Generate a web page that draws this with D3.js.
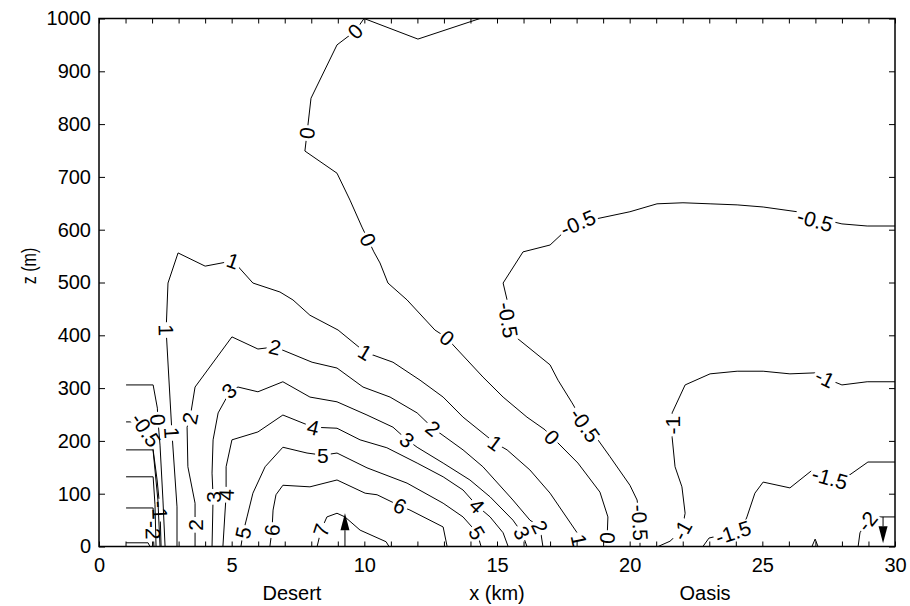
<!DOCTYPE html>
<html>
<head>
<meta charset="utf-8">
<script src="https://cdn.jsdelivr.net/npm/d3@7"></script>
<style>
  body { margin: 0; background: #fff; }
  svg { display: block; }
  text { font-family: "Liberation Sans", Arial, Helvetica, sans-serif; }
</style>
</head>
<body>
<svg id="chart" width="910" height="606"></svg>
<script>
// ---- Contour lines, vertices as [x (km), z (m)] ----
const c0 = [[14.36,1000],[12.02,961],[9.99,1000],[9.65,976],[8.97,950],[7.99,849],[7.84,783],[7.76,749],[8.97,707],[9.46,656],[9.91,605],[10.14,581],[10.36,558],[10.59,537],[10.89,499],[11.61,467],[12.66,410],[13.12,395],[13.34,382],[14.47,321],[15.23,283],[16.13,245],[16.81,221],[17.07,207],[17.30,196],[18.05,158],[18.88,103],[19.18,56],[19.15,16],[19.11,0]];
const c1 = [[2.94,0],[2.94,75],[2.75,215],[2.53,410],[2.60,499],[2.98,556],[4.00,531],[5.05,541],[5.80,499],[6.82,482],[7.31,467],[7.95,438],[9.01,410],[10.03,368],[11.08,349],[12.10,315],[12.97,283],[13.72,245],[14.93,196],[15.38,183],[16.24,145],[17.00,101],[18.02,26],[18.09,12],[18.13,0]];
const c2 = [[3.62,0],[3.62,41],[3.62,82],[3.35,151],[3.32,226],[3.43,243],[3.62,302],[5.01,397],[5.99,374],[6.63,378],[8.03,349],[8.97,338],[9.95,302],[10.97,283],[11.99,253],[12.59,224],[13.72,183],[14.47,151],[15.60,88],[16.24,50],[16.62,37],[16.73,0]];
const c3 = [[4.26,0],[4.30,94],[4.26,139],[4.30,202],[4.49,253],[4.82,283],[4.90,295],[5.24,302],[5.99,293],[6.93,312],[7.95,283],[8.97,274],[10.10,249],[11.08,226],[11.61,202],[11.99,188],[12.97,158],[13.98,126],[14.74,94],[15.60,50],[15.94,26],[16.13,0]];
const c4 = [[4.67,0],[4.79,98],[4.79,151],[5.01,202],[5.99,217],[6.93,249],[8.07,226],[8.97,224],[9.84,202],[10.85,187],[11.99,158],[12.97,132],[13.72,107],[14.25,77],[14.74,56],[15.23,26],[15.42,0]];
const c5 = [[5.35,0],[5.43,26],[5.58,56],[5.80,101],[6.26,151],[6.93,188],[7.84,177],[8.44,173],[8.97,177],[10.10,149],[11.61,120],[12.97,82],[13.72,56],[14.25,26],[14.40,0]];
const c6 = [[6.44,0],[6.52,31],[6.56,69],[6.67,98],[6.93,116],[7.95,113],[8.97,126],[10.03,101],[10.48,98],[11.34,77],[11.72,69],[12.97,37],[13.12,0]];
const c7 = [[8.22,0],[8.37,31],[8.59,56],[8.97,63],[9.27,56],[9.84,31],[10.82,9],[10.93,0]];
const cm05 = [[20.39,0],[20.39,45],[20.31,75],[20.28,88],[20.01,116],[19.26,170],[18.62,215],[18.32,230],[17.83,272],[17.30,315],[17.00,344],[15.60,401],[15.42,429],[15.38,467],[15.23,499],[15.98,558],[17.00,571],[17.49,594],[18.05,613],[18.69,620],[20.01,634],[21.03,649],[22.01,651],[23.03,649],[24.05,647],[25.03,643],[26.31,634],[26.99,618],[27.66,615],[28.00,611],[28.95,607],[30.00,607]];
const cm1 = [[21.07,0],[21.52,10],[21.97,31],[22.09,63],[21.97,113],[21.71,151],[21.60,207],[21.60,230],[21.60,253],[22.09,306],[23.03,327],[24.05,332],[25.03,332],[26.04,327],[27.06,329],[27.36,319],[28.00,306],[28.95,312],[30.00,312]];
const cm15 = [[22.76,0],[22.99,16],[23.90,27],[24.27,37],[24.42,56],[24.72,101],[25.03,122],[26.04,111],[26.99,149],[27.55,130],[28.19,132],[28.98,160],[30.00,160]];
const cm2 = [[28.61,0],[28.68,26],[28.95,48],[29.17,56],[30.00,56]];
const cBump = [[26.87,0],[26.99,14],[27.10,0]];
// western edge of the domain
const cLa = [[1.02,306],[2.04,306],[2.20,262],[2.22,240],[2.30,192],[2.41,88],[2.49,0]];
const cLb = [[1.02,236],[1.55,236],[1.77,221],[2.00,202],[2.22,88],[2.30,0]];
const cLc = [[1.02,183],[2.04,183],[2.19,126],[2.30,69],[2.34,0]];
const cLd = [[1.02,132],[2.04,132],[2.11,79],[2.15,0]];
const cLe = [[1.02,73],[2.04,73],[2.04,31],[2.07,0]];
const cLf = [[1.02,7],[1.85,7],[1.92,0]];

// level of each line and the vertices that carry an inline label
const lineSets   = [c0, c1, c2, c3, c4, c5, c6, c7, cm05, cm1, cm15, cm2, cBump, cLa, cLb, cLc, cLd, cLe, cLf];
const lineLevels = [0, 1, 2, 3, 4, 5, 6, 7, -0.5, -1, -1.5, -2, -1.5, 0, -0.5, -1, -1.5, -2, -2.5];
const labelAt    = [[3,6,11,17,23,28],[2,3,7,13,18,23],[1,5,9,15,20],[1,6,14,20],[1,6,13],[1,7,13],[1,9],[1],
                    [1,7,12,18,27],[2,7,15],[2,9],[2],[],[3],[2],[3],[],[2],[]];

// vertical wind arrows: x (km), start z, tip z
const arrowX    = [9.27, 29.55];
const arrowFrom = [0, 56];
const arrowTo   = [63, 6];

// axis ticks and annotations
const xMajor = d3.range(0, 31, 5);
const xMinor = d3.range(0, 31, 1);
const zTicks = d3.range(0, 1001, 100);
const siteNames = ["Desert", "Oasis"];
const siteX     = [7.27, 22.84];

// ---- layout ----
const M = { l: 99, r: 895, t: 18.5, b: 546.5 };
const FONT = '"Liberation Sans", Arial, Helvetica, sans-serif';
const svg = d3.select("#chart");
const x = d3.scaleLinear().domain([0, 30]).range([M.l, M.r]);
const y = d3.scaleLinear().domain([0, 1000]).range([M.b, M.t]);

const defs = svg.append("defs");
defs.append("clipPath").attr("id", "plotClip")
  .append("rect").attr("x", M.l).attr("y", M.t).attr("width", M.r - M.l).attr("height", M.b - M.t);

const LABEL_SIZE = 21;
// text measurement helper
const probe = svg.append("text").attr("font-size", LABEL_SIZE).style("font-family", FONT).attr("visibility", "hidden");
function textWidth(s) { probe.text(s); return probe.node().getComputedTextLength(); }

const lineGen = d3.line().x(d => x(d[0])).y(d => y(d[1]));
const gLines = svg.append("g").attr("clip-path", "url(#plotClip)");
const gLabels = svg.append("g");

lineSets.forEach((pts, i) => {
  const txt = String(lineLevels[i]);
  const w = textWidth(txt) + 4, h = LABEL_SIZE * 0.78;
  const labs = labelAt[i].map(k => {
    const p = pts[k];
    const a = pts[Math.max(0, k - 1)], b = pts[Math.min(pts.length - 1, k + 1)];
    let ang = Math.atan2(y(b[1]) - y(a[1]), x(b[0]) - x(a[0])) * 180 / Math.PI;
    if (ang > 90) ang -= 180;
    if (ang < -90) ang += 180;
    return { cx: x(p[0]), cy: y(p[1]), ang };
  });
  // break the line where its own labels sit
  const mask = defs.append("mask").attr("id", "gap" + i)
    .attr("maskUnits", "userSpaceOnUse").attr("x", 0).attr("y", 0).attr("width", 910).attr("height", 606);
  mask.append("rect").attr("x", 0).attr("y", 0).attr("width", 910).attr("height", 606).attr("fill", "#fff");
  labs.forEach(l => mask.append("rect")
    .attr("x", -w / 2).attr("y", -h / 2).attr("width", w).attr("height", h)
    .attr("transform", `translate(${l.cx},${l.cy}) rotate(${l.ang})`).attr("fill", "#000"));

  gLines.append("path")
    .attr("d", lineGen(pts))
    .attr("fill", "none").attr("stroke", "#000").attr("stroke-width", 1)
    .attr("stroke-linejoin", "round")
    .attr("mask", `url(#gap${i})`);

  labs.forEach(l => gLabels.append("text")
    .attr("transform", `translate(${l.cx},${l.cy}) rotate(${l.ang})`)
    .attr("text-anchor", "middle").attr("dy", "0.36em")
    .attr("font-size", LABEL_SIZE).style("font-family", FONT)
    .text(txt));
});

// wind arrows
arrowX.forEach((ax, i) => {
  const cx = x(ax), sy = y(arrowFrom[i]), ty = y(arrowTo[i]);
  const s = Math.sign(sy - ty), hl = 17, hw = 4.5;
  const base = ty + s * hl;
  svg.append("line").attr("x1", cx).attr("x2", cx).attr("y1", sy).attr("y2", base)
    .attr("stroke", "#000").attr("stroke-width", 1);
  svg.append("path").attr("d", `M${cx - hw},${base}L${cx + hw},${base}L${cx},${ty}Z`).attr("fill", "#000");
});

// ---- axes ----
function styleAxis(g) {
  g.select(".domain").remove();
  g.selectAll(".tick line").attr("stroke", "#000").attr("stroke-width", 1);
  g.attr("font-size", 20).attr("font-family", FONT);
  g.selectAll("text").attr("fill", "#000");
}
svg.append("g").attr("transform", `translate(0,${M.b})`)
  .call(d3.axisBottom(x).tickValues(xMinor).tickSize(-5).tickFormat("")).call(styleAxis);
svg.append("g").attr("transform", `translate(0,${M.b})`)
  .call(d3.axisBottom(x).tickValues(xMajor).tickSize(0).tickPadding(11).tickFormat(d3.format("d"))).call(styleAxis);
svg.append("g").attr("transform", `translate(0,${M.t})`)
  .call(d3.axisTop(x).tickValues(xMinor).tickSize(-5).tickFormat("")).call(styleAxis);
svg.append("g").attr("transform", `translate(${M.l},0)`)
  .call(d3.axisLeft(y).tickValues(zTicks).tickSize(-6).tickPadding(8).tickFormat(d3.format("d"))).call(styleAxis);
svg.append("g").attr("transform", `translate(${M.r},0)`)
  .call(d3.axisRight(y).tickValues(zTicks).tickSize(-6).tickFormat("")).call(styleAxis);

svg.append("rect").attr("x", M.l).attr("y", M.t).attr("width", M.r - M.l).attr("height", M.b - M.t)
  .attr("fill", "none").attr("stroke", "#000").attr("stroke-width", 1.5);

// axis titles and site names
svg.append("text").attr("x", x(15)).attr("y", 600).attr("text-anchor", "middle")
  .attr("font-size", 20).style("font-family", FONT).text("x (km)");
siteNames.forEach((s, i) => svg.append("text").attr("x", x(siteX[i])).attr("y", 600)
  .attr("text-anchor", "middle").attr("font-size", 20).style("font-family", FONT).text(s));
svg.append("text").attr("transform", "translate(36,266) scale(1.3,1) rotate(-90)")
  .attr("text-anchor", "middle").attr("font-size", 16).style("font-family", FONT).text("z (m)");
</script>
</body>
</html>
